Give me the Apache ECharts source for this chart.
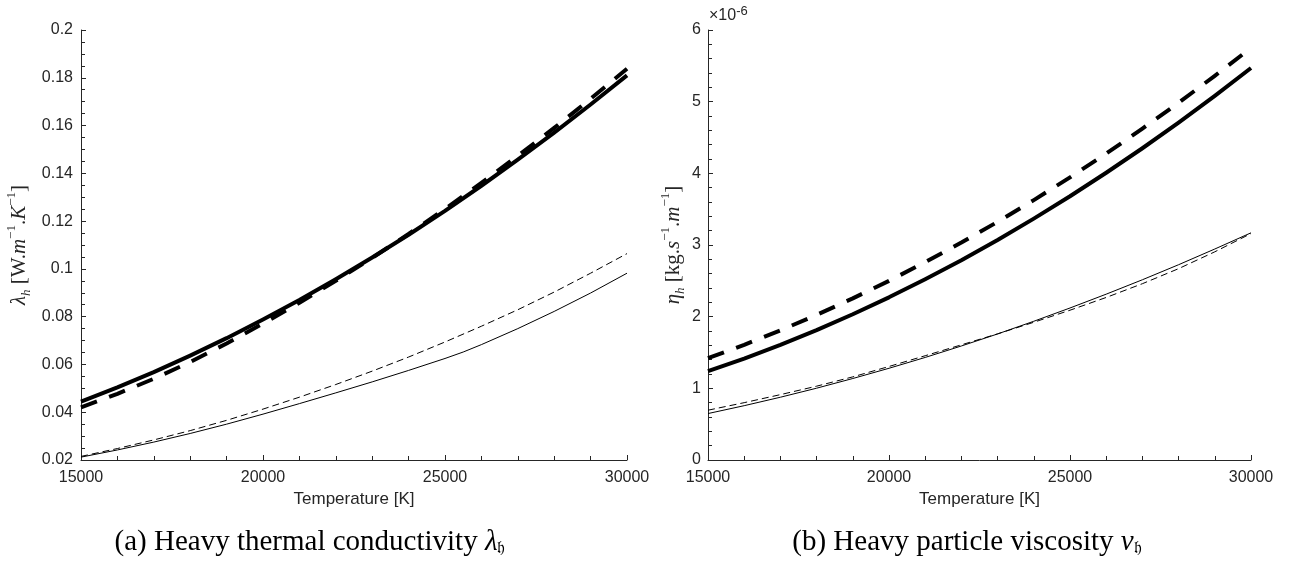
<!DOCTYPE html>
<html>
<head>
<meta charset="utf-8">
<title>Heavy-species transport properties</title>
<script src="https://cdn.jsdelivr.net/npm/echarts@6/dist/echarts.min.js"></script>
<style>
  html, body { margin: 0; padding: 0; background: #ffffff; }
  #chart { width: 1293px; height: 562px; }
</style>
</head>
<body>
<div id="chart"></div>
<script>
// Temperature grid [K]
const TEMP = [15000, 16000, 17000, 18000, 19000, 20000, 21000, 22000,
              23000, 24000, 25000, 26000, 27000, 28000, 29000, 30000];
// The thin solid conductivity curve has a slope break near 25.5 kK
const TEMP_KINK = [15000, 16000, 17000, 18000, 19000, 20000, 21000, 22000,
                   23000, 24000, 25000, 25500, 26000, 27000, 28000, 29000, 30000];

// Heavy thermal conductivity lambda_h [W/m/K]
const LAMBDA_THICK_SOLID = [0.0444, 0.0504, 0.0568, 0.0637, 0.0710, 0.0788, 0.0870, 0.0957,
                            0.1048, 0.1143, 0.1243, 0.1348, 0.1457, 0.1570, 0.1688, 0.1810];
const LAMBDA_THICK_DASH  = [0.0420, 0.0477, 0.0540, 0.0610, 0.0688, 0.0771, 0.0858, 0.0950,
                            0.1046, 0.1146, 0.1251, 0.1360, 0.1473, 0.1590, 0.1712, 0.1838];
const LAMBDA_THIN_SOLID  = [0.0212, 0.0242, 0.0275, 0.0311, 0.0350, 0.0392, 0.0436, 0.0481,
                            0.0527, 0.0575, 0.0625, 0.0652, 0.0683, 0.0750, 0.0822, 0.0899, 0.0982];
const LAMBDA_THIN_DASH   = [0.0215, 0.0248, 0.0284, 0.0323, 0.0366, 0.0413, 0.0463, 0.0516,
                            0.0572, 0.0631, 0.0694, 0.0760, 0.0829, 0.0903, 0.0982, 0.1064];

// Heavy particle viscosity eta_h, in units of 1e-6 kg/(s.m)
const ETA_THICK_SOLID = [1.240, 1.416, 1.606, 1.812, 2.034, 2.270, 2.522, 2.788,
                         3.070, 3.368, 3.680, 4.008, 4.350, 4.708, 5.082, 5.470];
const ETA_THICK_DASH  = [1.420, 1.607, 1.809, 2.025, 2.255, 2.500, 2.760, 3.034,
                         3.323, 3.626, 3.944, 4.276, 4.623, 4.985, 5.361, 5.750];
const ETA_THIN_SOLID  = [0.648, 0.758, 0.876, 1.002, 1.137, 1.280, 1.431, 1.591,
                         1.759, 1.936, 2.121, 2.314, 2.515, 2.725, 2.944, 3.170];
const ETA_THIN_DASH   = [0.695, 0.800, 0.912, 1.030, 1.160, 1.305, 1.455, 1.607,
                         1.760, 1.922, 2.090, 2.268, 2.460, 2.670, 2.905, 3.160];

// Axis ticks
const X_MIN = 15000, X_MAX = 30000, X_STEP = 5000;
const LAMBDA_MIN = 0.02, LAMBDA_MAX = 0.2, LAMBDA_STEP = 0.02;
const ETA_MIN = 0, ETA_MAX = 6, ETA_STEP = 1;

const AXIS_COLOR = '#262626';
const SANS = '"Liberation Sans", Arial, Helvetica, sans-serif';
const SERIF = '"Liberation Serif", "Times New Roman", serif';

function pairs(xs, ys) { return xs.map((x, i) => [x, ys[i]]); }

function xAxisFor(gridIndex) {
  return {
    gridIndex, type: 'value', min: X_MIN, max: X_MAX, interval: X_STEP,
    axisLine: { show: true, onZero: false, lineStyle: { color: AXIS_COLOR, width: 1 } },
    axisTick: { show: true, inside: true, length: 5, lineStyle: { color: AXIS_COLOR } },
    minorTick: { show: true, splitNumber: 5, length: 4, lineStyle: { color: AXIS_COLOR } },
    splitLine: { show: false },
    axisLabel: { margin: 10, color: AXIS_COLOR, fontFamily: SANS, fontSize: 16,
                 formatter: v => String(v) },
    name: 'Temperature [K]', nameLocation: 'middle', nameGap: 29,
    nameTextStyle: { color: AXIS_COLOR, fontFamily: SANS, fontSize: 17 }
  };
}

const nameRich = {
  i:   { fontFamily: SERIF, fontStyle: 'italic', fontSize: 21, color: AXIS_COLOR, lineHeight: 28 },
  r:   { fontFamily: SERIF, fontSize: 21, color: AXIS_COLOR, lineHeight: 28 },
  sub: { fontFamily: SERIF, fontStyle: 'italic', fontSize: 13, color: AXIS_COLOR, verticalAlign: 'bottom', lineHeight: 28 },
  sup: { fontFamily: SERIF, fontSize: 13, color: AXIS_COLOR, verticalAlign: 'top', lineHeight: 28 }
};

function yAxisFor(gridIndex, min, max, step, minorSplit, name, nameGap, margin) {
  return {
    gridIndex, type: 'value', min, max, interval: step,
    axisLine: { show: true, onZero: false, lineStyle: { color: AXIS_COLOR, width: 1 } },
    axisTick: { show: true, inside: true, length: 5, lineStyle: { color: AXIS_COLOR } },
    minorTick: { show: true, splitNumber: minorSplit, length: 4, lineStyle: { color: AXIS_COLOR } },
    splitLine: { show: false },
    axisLabel: { margin, color: AXIS_COLOR, fontFamily: SANS, fontSize: 16 },
    name, nameLocation: 'middle', nameGap,
    nameTextStyle: { color: AXIS_COLOR, fontFamily: SERIF, fontSize: 21, rich: nameRich }
  };
}

function curve(xi, yi, xs, ys, width, dash) {
  return {
    type: 'line', xAxisIndex: xi, yAxisIndex: yi,
    data: pairs(xs, ys), showSymbol: false, symbol: 'none',
    smooth: false, silent: true,
    lineStyle: { color: '#000000', width, type: dash || 'solid', cap: 'butt', join: 'round' }
  };
}

const THICK = 4, THIN = 1;
const THICK_DASH = [17, 13], THIN_DASH = [7, 4];

const captionRich = {
  i:   { fontFamily: SERIF, fontStyle: 'italic', fontSize: 29, fill: '#000' },
  sub: { fontFamily: SERIF, fontSize: 17, fill: '#000', padding: [13, 0, 0, 0] }
};

const option = {
  animation: false,
  backgroundColor: '#ffffff',
  grid: [
    { left: 81, right: 666, top: 30, bottom: 102, containLabel: false },
    { left: 708, right: 42, top: 30, bottom: 102, containLabel: false }
  ],
  xAxis: [xAxisFor(0), xAxisFor(1)],
  yAxis: [
    yAxisFor(0, LAMBDA_MIN, LAMBDA_MAX, LAMBDA_STEP, 4,
      '{i|λ}{sub|h}{r| [W.}{i|m}{sup|−1}{r|.}{i|K}{sup|−1}{r|]}', 48, 8),
    yAxisFor(1, ETA_MIN, ETA_MAX, ETA_STEP, 5,
      '{i|η}{sub|h}{r| [kg.}{i|s}{sup|−1}{r|.}{i|m}{sup|−1}{r|]}', 21, 7)
  ],
  series: [
    curve(0, 0, TEMP, LAMBDA_THICK_SOLID, THICK),
    curve(0, 0, TEMP, LAMBDA_THICK_DASH, THICK, THICK_DASH),
    curve(0, 0, TEMP_KINK, LAMBDA_THIN_SOLID, THIN),
    curve(0, 0, TEMP, LAMBDA_THIN_DASH, THIN, THIN_DASH),
    curve(1, 1, TEMP, ETA_THICK_SOLID, THICK),
    curve(1, 1, TEMP, ETA_THICK_DASH, THICK, THICK_DASH),
    curve(1, 1, TEMP, ETA_THIN_SOLID, THIN),
    curve(1, 1, TEMP, ETA_THIN_DASH, THIN, THIN_DASH)
  ],
  graphic: [
    {
      type: 'text', x: 709, y: 16,
      style: {
        text: '×10{sup|-6}', fontFamily: SANS, fontSize: 16, fill: AXIS_COLOR,
        align: 'left', verticalAlign: 'middle',
        rich: { sup: { fontFamily: SANS, fontSize: 13, fill: AXIS_COLOR, padding: [0, 0, 9, 0] } }
      }
    },
    {
      type: 'text', x: 310, y: 542,
      style: {
        text: '(a) Heavy thermal conductivity {i|λ}{sub|𝔥}', fontFamily: SERIF, fontSize: 29,
        fill: '#000', align: 'center', verticalAlign: 'middle', rich: captionRich
      }
    },
    {
      type: 'text', x: 967, y: 542,
      style: {
        text: '(b) Heavy particle viscosity {i|ν}{sub|𝔥}', fontFamily: SERIF, fontSize: 29,
        fill: '#000', align: 'center', verticalAlign: 'middle', rich: captionRich
      }
    }
  ]
};

const chart = echarts.init(document.getElementById('chart'), null, { renderer: 'canvas' });
chart.setOption(option);
</script>
</body>
</html>
